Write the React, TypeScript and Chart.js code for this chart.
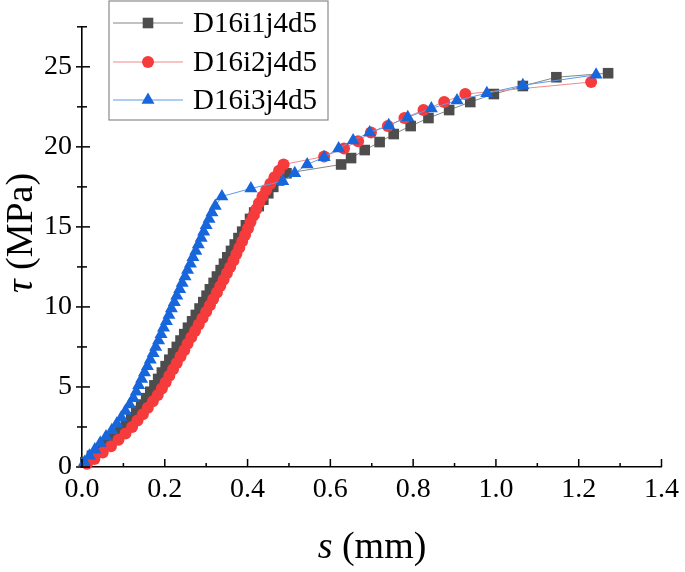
import { useEffect, useRef } from 'react';
import { Chart, registerables } from 'chart.js';

Chart.register(...registerables);

const serif = 'Liberation Serif, DejaVu Serif, serif';

const seriesNames = ['D16i1j4d5', 'D16i2j4d5', 'D16i3j4d5'];

// D16i1j4d5 (black squares)
const sBlack = [
    0.008, 0.024, 0.042, 0.060, 0.077, 0.092, 0.106, 0.119, 0.131, 0.143,
    0.155, 0.165, 0.175, 0.184, 0.193, 0.202, 0.211, 0.220, 0.229, 0.238,
    0.247, 0.256, 0.266, 0.275, 0.284, 0.293, 0.301, 0.309, 0.318, 0.326,
    0.335, 0.343, 0.351, 0.360, 0.369, 0.378, 0.387, 0.396, 0.406, 0.416,
    0.427, 0.438, 0.450, 0.462, 0.476, 0.494,
    0.626, 0.650, 0.683, 0.719, 0.753, 0.794, 0.837, 0.887, 0.938, 0.995,
    1.065, 1.146, 1.271,
];
const tauBlack = [
    0.3, 0.7, 1.1, 1.5, 1.9, 2.3, 2.7, 3.1, 3.5, 3.9,
    4.3, 4.7, 5.1, 5.5, 5.9, 6.3, 6.7, 7.1, 7.5, 7.9,
    8.3, 8.7, 9.1, 9.5, 9.9, 10.3, 10.7, 11.1, 11.5, 11.9,
    12.3, 12.7, 13.1, 13.5, 13.9, 14.3, 14.7, 15.1, 15.5, 15.9,
    16.3, 16.7, 17.1, 17.5, 17.9, 18.35,
    18.9, 19.3, 19.8, 20.3, 20.8, 21.3, 21.8, 22.3, 22.8, 23.3,
    23.8, 24.35, 24.6,
];

// D16i2j4d5 (red circles)
const sRed = [
    0.012, 0.030, 0.050, 0.070, 0.088, 0.105, 0.121, 0.134, 0.147, 0.159,
    0.171, 0.183, 0.193, 0.202, 0.211, 0.220, 0.229, 0.238, 0.247, 0.255,
    0.264, 0.273, 0.282, 0.291, 0.300, 0.309, 0.317, 0.326, 0.334, 0.342,
    0.350, 0.358, 0.366, 0.373, 0.380, 0.387, 0.394, 0.401, 0.407, 0.414,
    0.421, 0.428, 0.436, 0.445, 0.455, 0.465, 0.476, 0.487,
    0.585, 0.633, 0.667, 0.698, 0.739, 0.779, 0.825, 0.875, 0.926, 1.230,
];
const tauRed = [
    0.2, 0.5, 0.9, 1.3, 1.7, 2.1, 2.5, 2.9, 3.3, 3.7,
    4.1, 4.5, 4.9, 5.3, 5.7, 6.1, 6.5, 6.9, 7.3, 7.7,
    8.1, 8.5, 8.9, 9.3, 9.7, 10.1, 10.5, 10.9, 11.3, 11.7,
    12.1, 12.5, 12.9, 13.3, 13.7, 14.1, 14.5, 14.9, 15.3, 15.7,
    16.1, 16.5, 16.9, 17.3, 17.7, 18.1, 18.5, 18.9,
    19.4, 19.9, 20.35, 20.9, 21.3, 21.8, 22.3, 22.8, 23.3, 24.05,
];

// D16i3j4d5 (blue triangles)
const sBlue = [
    0.006, 0.018, 0.031, 0.044, 0.058, 0.072, 0.084, 0.095, 0.105, 0.115,
    0.124, 0.131, 0.137, 0.144, 0.151, 0.158, 0.165, 0.172, 0.178, 0.185,
    0.191, 0.197, 0.204, 0.210, 0.216, 0.223, 0.229, 0.236, 0.242, 0.249,
    0.255, 0.262, 0.268, 0.275, 0.281, 0.288, 0.294, 0.300, 0.307, 0.314,
    0.322, 0.338,
    0.408, 0.485, 0.514, 0.544, 0.585, 0.620, 0.655, 0.695, 0.741, 0.787,
    0.844, 0.906, 0.978, 1.065, 1.242,
];
const tauBlue = [
    0.3, 0.7, 1.1, 1.5, 1.9, 2.3, 2.7, 3.1, 3.5, 3.9,
    4.3, 4.7, 5.1, 5.5, 5.9, 6.3, 6.7, 7.1, 7.5, 7.9,
    8.3, 8.7, 9.1, 9.5, 9.9, 10.3, 10.7, 11.1, 11.5, 11.9,
    12.3, 12.7, 13.1, 13.5, 13.9, 14.3, 14.7, 15.1, 15.5, 15.9,
    16.3, 16.9,
    17.4, 17.85, 18.35, 18.9, 19.35, 19.9, 20.4, 20.9, 21.35, 21.85,
    22.4, 22.9, 23.35, 23.85, 24.5,
];

const toPoints = (xs: number[], ys: number[]) => xs.map((x, i) => ({ x, y: ys[i] }));

// draws a legend marker by hand
const drawMarker = (ctx: CanvasRenderingContext2D, style: string, x: number, y: number, r: number) => {
    ctx.beginPath();
    if (style === 'rect') {
        const h = r * Math.SQRT1_2;
        ctx.rect(x - h, y - h, 2 * h, 2 * h);
    } else if (style === 'triangle') {
        ctx.moveTo(x, y - r);
        ctx.lineTo(x + r * Math.sqrt(3) / 2, y + r / 2);
        ctx.lineTo(x - r * Math.sqrt(3) / 2, y + r / 2);
        ctx.closePath();
    } else {
        ctx.arc(x, y, r, 0, Math.PI * 2);
    }
    ctx.fill();
};

const decorPlugin = {
    id: 'decor',
    afterDraw(chart: any) {
        const { ctx } = chart;
        const xs = chart.scales.x;
        const ys = chart.scales.y;
        ctx.save();

        // tick marks
        ctx.strokeStyle = '#000';
        ctx.lineWidth = 1.5;
        xs.ticks.forEach((t: any) => {
            const px = xs.getPixelForValue(t.value);
            const major = Math.round(t.value * 10) % 2 === 0;
            ctx.beginPath();
            ctx.moveTo(px, xs.top);
            ctx.lineTo(px, xs.top - (major ? 8 : 4));
            ctx.stroke();
        });
        ys.ticks.forEach((t: any) => {
            const py = ys.getPixelForValue(t.value);
            const major = Math.abs(t.value % 5) < 1e-6;
            ctx.beginPath();
            ctx.moveTo(ys.right - (major ? 6 : 5), py);
            ctx.lineTo(ys.right + (major ? 8 : 5), py);
            ctx.stroke();
        });

        // axis titles
        ctx.fillStyle = '#000';
        ctx.textBaseline = 'middle';
        const italic = 'italic 38px ' + serif;
        const normal = '38px ' + serif;

        ctx.font = italic;
        const wS = ctx.measureText('s').width;
        ctx.font = normal;
        const wMm = ctx.measureText(' (mm)').width;
        let sx = 372 - (wS + wMm) / 2;
        ctx.textAlign = 'left';
        ctx.font = italic;
        ctx.fillText('s', sx, 548);
        ctx.font = normal;
        ctx.fillText(' (mm)', sx + wS, 548);

        ctx.save();
        ctx.translate(22, 233);
        ctx.rotate(-Math.PI / 2);
        ctx.font = italic;
        const wT = ctx.measureText('τ').width;
        ctx.font = normal;
        const wMpa = ctx.measureText(' (MPa)').width;
        sx = -(wT + wMpa) / 2;
        ctx.font = italic;
        ctx.fillText('τ', sx, 0);
        ctx.font = normal;
        ctx.fillText(' (MPa)', sx + wT, 0);
        ctx.restore();

        // legend
        ctx.fillStyle = '#fff';
        ctx.fillRect(109, 1, 219, 119);
        ctx.strokeStyle = '#8a8a8a';
        ctx.lineWidth = 1.2;
        ctx.strokeRect(109, 1, 219, 119);
        const rows = [23, 62, 100];
        chart.data.datasets.forEach((ds: any, i: number) => {
            const y = rows[i];
            ctx.strokeStyle = ds.borderColor;
            ctx.lineWidth = 1;
            ctx.beginPath();
            ctx.moveTo(113, y);
            ctx.lineTo(183, y);
            ctx.stroke();
            ctx.fillStyle = ds.pointBackgroundColor;
            drawMarker(ctx, ds.pointStyle, 148, y, ds.pointRadius);
            ctx.fillStyle = '#000';
            ctx.font = '29px ' + serif;
            ctx.textAlign = 'left';
            ctx.fillText(seriesNames[i], 193, y + 1);
        });

        ctx.restore();
    },
};

const App = () => {
    const chartRef = useRef<HTMLCanvasElement>(null);

    useEffect(() => {
        if (!chartRef.current) return;
        const chart = new Chart(chartRef.current, {
            type: 'line',
            data: {
                datasets: [
                    {
                        label: seriesNames[0],
                        data: toPoints(sBlack, tauBlack),
                        borderColor: '#858585',
                        borderWidth: 1,
                        pointStyle: 'rect',
                        pointRadius: 7.5,
                        pointBackgroundColor: '#4d4d4d',
                        pointBorderColor: '#4d4d4d',
                        pointBorderWidth: 0,
                        order: 3,
                        clip: false,
                    },
                    {
                        label: seriesNames[1],
                        data: toPoints(sRed, tauRed),
                        borderColor: '#f08a8a',
                        borderWidth: 1,
                        pointStyle: 'circle',
                        pointRadius: 6,
                        pointBackgroundColor: '#f53b3b',
                        pointBorderColor: '#f53b3b',
                        pointBorderWidth: 0,
                        order: 2,
                        clip: false,
                    },
                    {
                        label: seriesNames[2],
                        data: toPoints(sBlue, tauBlue),
                        borderColor: '#5e9be8',
                        borderWidth: 1,
                        pointStyle: 'triangle',
                        pointRadius: 7.5,
                        pointBackgroundColor: '#1766dc',
                        pointBorderColor: '#1766dc',
                        pointBorderWidth: 0,
                        order: 1,
                        clip: false,
                    },
                ],
            },
            options: {
                animation: false,
                responsive: true,
                maintainAspectRatio: false,
                layout: { padding: { top: 1, right: 19, left: 0, bottom: 0 } },
                plugins: {
                    legend: { display: false },
                    tooltip: { enabled: false },
                },
                scales: {
                    x: {
                        type: 'linear',
                        min: 0,
                        max: 1.4,
                        grid: { display: false, drawTicks: false },
                        border: { display: true, color: '#000', width: 1.6 },
                        ticks: {
                            stepSize: 0.1,
                            autoSkip: false,
                            maxRotation: 0,
                            padding: 6,
                            color: '#000',
                            font: { family: serif, size: 28 },
                            callback: (v: any) => (Math.round(Number(v) * 10) % 2 === 0 ? Number(v).toFixed(1) : ''),
                        },
                        afterFit: (scale: any) => {
                            scale.height = 105;
                        },
                    },
                    y: {
                        type: 'linear',
                        min: 0,
                        max: 27.5,
                        grid: { display: false, drawTicks: false },
                        border: { display: true, color: '#000', width: 1.6 },
                        ticks: {
                            stepSize: 2.5,
                            autoSkip: false,
                            padding: 10,
                            color: '#000',
                            font: { family: serif, size: 28 },
                            callback: (v: any) => (Number(v) % 5 === 0 ? String(v) : ''),
                        },
                        afterFit: (scale: any) => {
                            scale.width = 82;
                        },
                    },
                },
            },
            plugins: [decorPlugin],
        });

        return () => {
            chart.destroy();
        };
    }, []);

    return (
        <div style={{ position: 'absolute', left: 0, top: 0, width: 685, height: 572, background: '#fff' }}>
            <canvas ref={chartRef}></canvas>
        </div>
    );
};

export default App;
